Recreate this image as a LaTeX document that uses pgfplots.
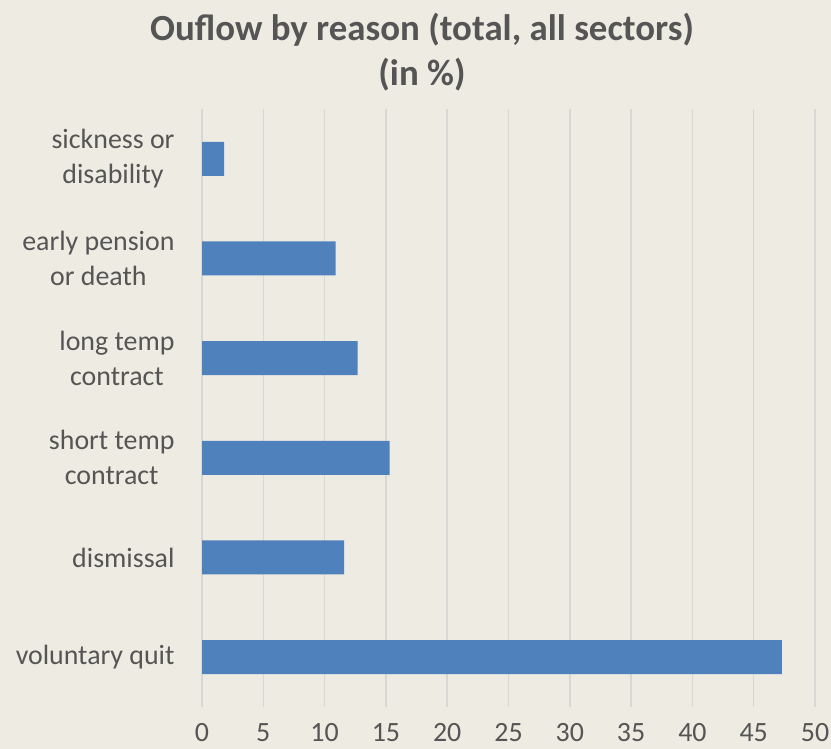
\documentclass[border=0pt]{standalone}
\usepackage{fontspec}
\setmainfont{Carlito}
\usepackage{pgfplots}
\pgfplotsset{compat=1.18}
\definecolor{bg}{HTML}{EEEBE2}
\definecolor{barblue}{HTML}{4F81BD}
\definecolor{txt}{HTML}{555555}
\definecolor{gridc}{HTML}{D9D7D3}
\begin{document}
\begin{tikzpicture}[x=1bp,y=1bp]
\useasboundingbox (0,0) rectangle (831,749);
\clip (0,0) rectangle (831,749);
\fill[bg] (0,0) rectangle (831,749);
\node[font=\fontsize{37}{45}\selectfont\bfseries, text=txt, align=center] at (422,697) {Ouflow by reason (total, all sectors)\\(in \%)};
\begin{axis}[at={(202bp,42bp)}, anchor=south west, scale only axis,
  width=613bp, height=598bp,
  xbar, bar width=34bp,
  xmin=0, xmax=50, ymin=-0.5, ymax=5.5,
  xtick={0,5,...,50}, ytick={0,...,5},
  yticklabels={{voluntary quit},{dismissal},{short temp\\contract},{long temp\\contract},{early pension\\or death},{sickness or\\disability}},
  axis line style={draw=none}, major tick length=0pt,
  xmajorgrids, grid style={gridc, line width=1.5bp},
  ticklabel style={font=\fontsize{28}{35}\selectfont, text=txt},
  yticklabel style={align=center, xshift=-24bp},
  xticklabel style={yshift=-15bp, inner sep=1bp},
  /pgf/number format/assume math mode=true, clip=false]
\addplot[fill=barblue, draw=none] coordinates {(47.3,0) (11.6,1) (15.3,2) (12.7,3) (10.9,4) (1.8,5)};
\end{axis}
\end{tikzpicture}
\end{document}
